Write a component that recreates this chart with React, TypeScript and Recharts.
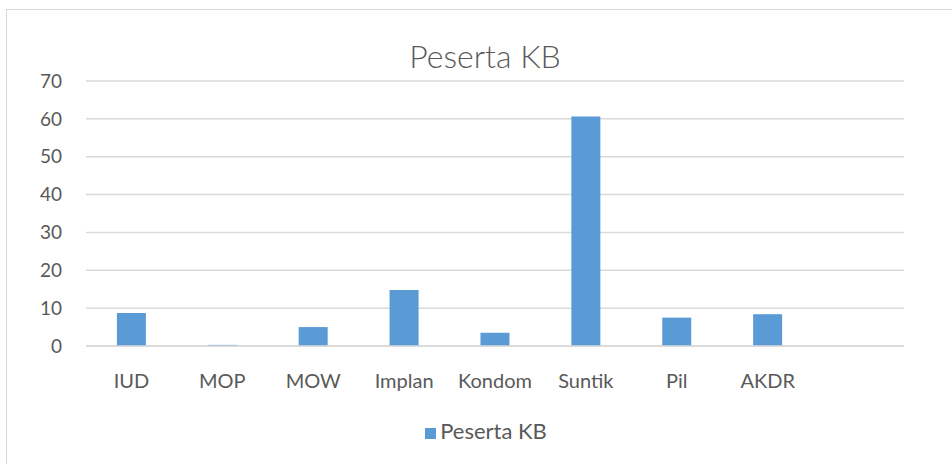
import { BarChart, Bar, XAxis, YAxis, CartesianGrid, Legend } from 'recharts'

const GRID = '#d9d9d9'
const TEXT = '#595959'
const BAR = '#5b9bd5'
const FONT = 'Lato, "Open Sans", sans-serif'

// kategori (slot terakhir kosong seperti di grafik asli)
const methods = ['IUD', 'MOP', 'MOW', 'Implan', 'Kondom', 'Suntik', 'Pil', 'AKDR', '']
const peserta = [8.7, 0.3, 5.0, 14.8, 3.5, 60.6, 7.5, 8.4, null]
const yTicks = [0, 10, 20, 30, 40, 50, 60, 70]

const data = methods.map((m, i) => ({ name: m, 'Peserta KB': peserta[i] }))

export default function App() {
  return (
    <div style={{ position: 'fixed', left: 0, top: 0, width: 952, height: 464, overflow: 'hidden', background: '#fff', fontFamily: FONT }}>
      <div style={{ position: 'absolute', left: 6, top: 9, width: 980, height: 480, border: `1px solid ${GRID}`, boxSizing: 'border-box' }} />
      <div style={{ position: 'absolute', left: 6, top: 36, width: 958, textAlign: 'center', fontSize: 32, fontWeight: 300, lineHeight: '40px', color: TEXT }}>
        Peserta KB
      </div>
      <div style={{ position: 'absolute', left: 0, top: 0 }}>
        <BarChart width={952} height={464} data={data} margin={{ top: 81, right: 48, left: 44, bottom: 88 }}
          barCategoryGap="34%">
          <CartesianGrid stroke={GRID} strokeWidth={1.5} vertical={false} />
          <XAxis dataKey="name" tick={{ fill: TEXT, fontSize: 20, fontFamily: FONT }} tickLine={false} tickSize={0}
            tickMargin={28} axisLine={{ stroke: GRID, strokeWidth: 1.5 }} interval={0} />
          <YAxis domain={[0, 70]} ticks={yTicks} width={42} tick={{ fill: TEXT, fontSize: 19, fontFamily: FONT }}
            tickLine={false} tickSize={0} tickMargin={24} axisLine={false} />
          <Legend layout="horizontal" verticalAlign="middle" align="center" iconType="square" iconSize={11}
            wrapperStyle={{ top: 417, left: 0, width: 982, fontSize: 22, fontFamily: FONT }}
            formatter={(v) => <span style={{ color: TEXT }}>{v}</span>} />
          <Bar dataKey="Peserta KB" fill={BAR} isAnimationActive={false} />
        </BarChart>
      </div>
    </div>
  )
}
